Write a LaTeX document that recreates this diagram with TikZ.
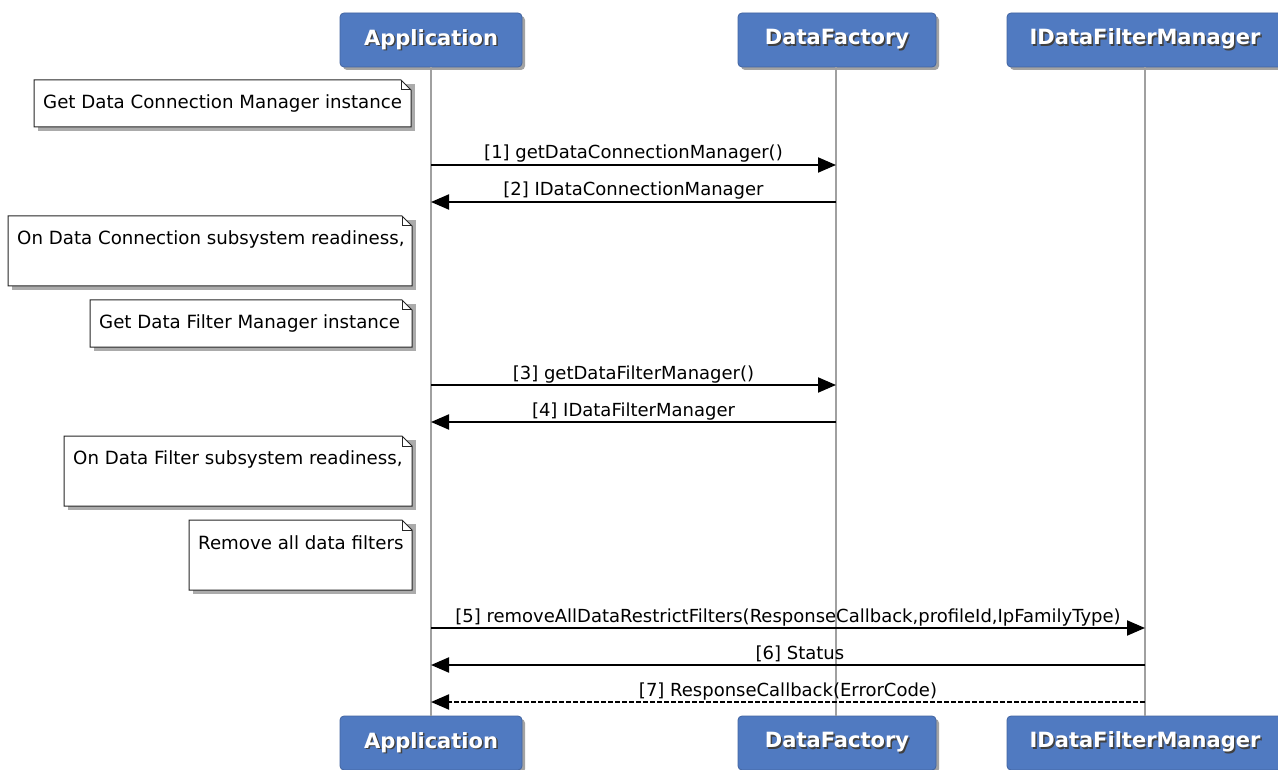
\documentclass[tikz,border=0pt]{standalone}
\usepackage{fontspec}
\setmainfont{DejaVu Sans}
\usetikzlibrary{arrows.meta,calc}
\definecolor{hdr}{RGB}{80,122,193}
\definecolor{hdrline}{RGB}{66,100,160}
\definecolor{lifec}{RGB}{160,160,160}
\newcommand\shadowtxt[1]{\makebox[0pt][l]{\raisebox{-1.5pt}{\hspace{1.5pt}\textcolor{black!75}{#1}}}#1}
\tikzset{
  hdrbox/.style={draw=hdrline, line width=0.8pt, fill=hdr, rounded corners=4pt,
    minimum height=54pt, inner sep=0pt, text=white,
    font=\fontsize{21}{24}\selectfont\bfseries},
  lifeline/.style={draw=lifec, line width=1.6pt},
  msg/.style={draw=black, line width=2pt, -{Triangle[length=18pt,width=15pt]}},
  dmsg/.style={msg, dashed, dash pattern=on 5pt off 2pt},
  msglabel/.style={font=\fontsize{18}{20}\selectfont, inner sep=0pt, anchor=base},
  notetxt/.style={font=\fontsize{18.2}{20}\selectfont, inner sep=0pt, anchor=west},
  notebody/.style={draw=black!85, line width=1pt, fill=white},
  noteshadow/.style={fill=black!60, opacity=0.55},
  hshadow/.style={fill=black!60, opacity=0.6, rounded corners=4pt}
}
% \notebox{name}{x1}{y1}{x2}{y2}{text}
\newcommand\notebox[6]{%
  \fill[noteshadow] (#2+4,#3+4) -- (#4+4,#3+4) -- (#4+4,#5+4) -- (#2+4,#5+4) -- cycle;
  \draw[notebody] (#2,#3) -- (#4-10,#3) -- (#4,#3+10) -- (#4,#5) -- (#2,#5) -- cycle;
  \draw[black!85, line width=1pt] (#4-10,#3) -- (#4-10,#3+10) -- (#4,#3+10);
  \node[notetxt] (#1) at (#2+9,#3+23) {#6};
}
\begin{document}
\begin{tikzpicture}[x=1pt,y=-1pt]
\useasboundingbox (0,0) rectangle (1278,770);
\fill[white] (0,0) rectangle (1278,770);

% header shadows
\fill[hshadow] (343,16) rectangle (525,70);
\fill[hshadow] (741,16) rectangle (939,70);
\fill[hshadow] (1010,16) rectangle (1286,70);
\fill[hshadow] (343,719) rectangle (525,773);
\fill[hshadow] (741,719) rectangle (939,773);
\fill[hshadow] (1010,719) rectangle (1286,773);

% participants
\node[hdrbox, minimum width=182pt] (appT) at (431,40) {\shadowtxt{Application}};
\node[hdrbox, minimum width=198pt] (dfT) at (837,40) {\shadowtxt{DataFactory}};
\node[hdrbox, minimum width=276pt] (fmT) at (1145,40) {\shadowtxt{IDataFilterManager}};
\node[hdrbox, minimum width=182pt] (appB) at (431,743) {\shadowtxt{Application}};
\node[hdrbox, minimum width=198pt] (dfB) at (837,743) {\shadowtxt{DataFactory}};
\node[hdrbox, minimum width=276pt] (fmB) at (1145,743) {\shadowtxt{IDataFilterManager}};

% lifelines
\draw[lifeline] (appT.south) -- (appB.north);
\draw[lifeline] ([xshift=-1pt]dfT.south) -- ([xshift=-1pt]dfB.north);
\draw[lifeline] (fmT.south) -- (fmB.north);

\coordinate (a1) at (431,165);  \coordinate (d1) at (836,165);
\coordinate (a2) at (431,202);  \coordinate (d2) at (836,202);
\coordinate (a3) at (431,385);  \coordinate (d3) at (836,385);
\coordinate (a4) at (431,422);  \coordinate (d4) at (836,422);
\coordinate (a5) at (431,628);  \coordinate (f5) at (1145,628);
\coordinate (a6) at (431,665);  \coordinate (f6) at (1145,665);
\coordinate (a7) at (431,702);  \coordinate (f7) at (1145,702);

% notes
\notebox{n1}{34}{80}{411}{127}{Get Data Connection Manager instance}
\notebox{n2}{8}{216}{412}{286}{On Data Connection subsystem readiness,}
\notebox{n3}{90}{300}{412}{347}{Get Data Filter Manager instance}
\notebox{n4}{64}{436}{412}{506}{On Data Filter subsystem readiness,}
\notebox{n5}{189}{520}{412}{590}{Remove all data filters}

% messages
\draw[msg] (a1) -- (d1);
\node[msglabel] (l1) at ($(a1)!0.5!(d1)+(0,-6)$) {[1] getDataConnectionManager()};
\draw[msg] (d2) -- (a2);
\node[msglabel] (l2) at ($(a2)!0.5!(d2)+(0,-6)$) {[2] IDataConnectionManager};
\draw[msg] (a3) -- (d3);
\node[msglabel] (l3) at ($(a3)!0.5!(d3)+(0,-6)$) {[3] getDataFilterManager()};
\draw[msg] (d4) -- (a4);
\node[msglabel] (l4) at ($(a4)!0.5!(d4)+(0,-6)$) {[4] IDataFilterManager};
\draw[msg] (a5) -- (f5);
\node[msglabel] (l5) at ($(a5)!0.5!(f5)+(0,-6)$) {[5] removeAllDataRestrictFilters(ResponseCallback,profileId,IpFamilyType)};
\draw[msg] (f6) -- (a6);
\node[msglabel] (l6) at ($(a6)!0.5!(f6)+(12,-6)$) {[6] Status};
\draw[dmsg] (f7) -- (a7);
\node[msglabel] (l7) at ($(a7)!0.5!(f7)+(0,-6)$) {[7] ResponseCallback(ErrorCode)};
\end{tikzpicture}
\end{document}
